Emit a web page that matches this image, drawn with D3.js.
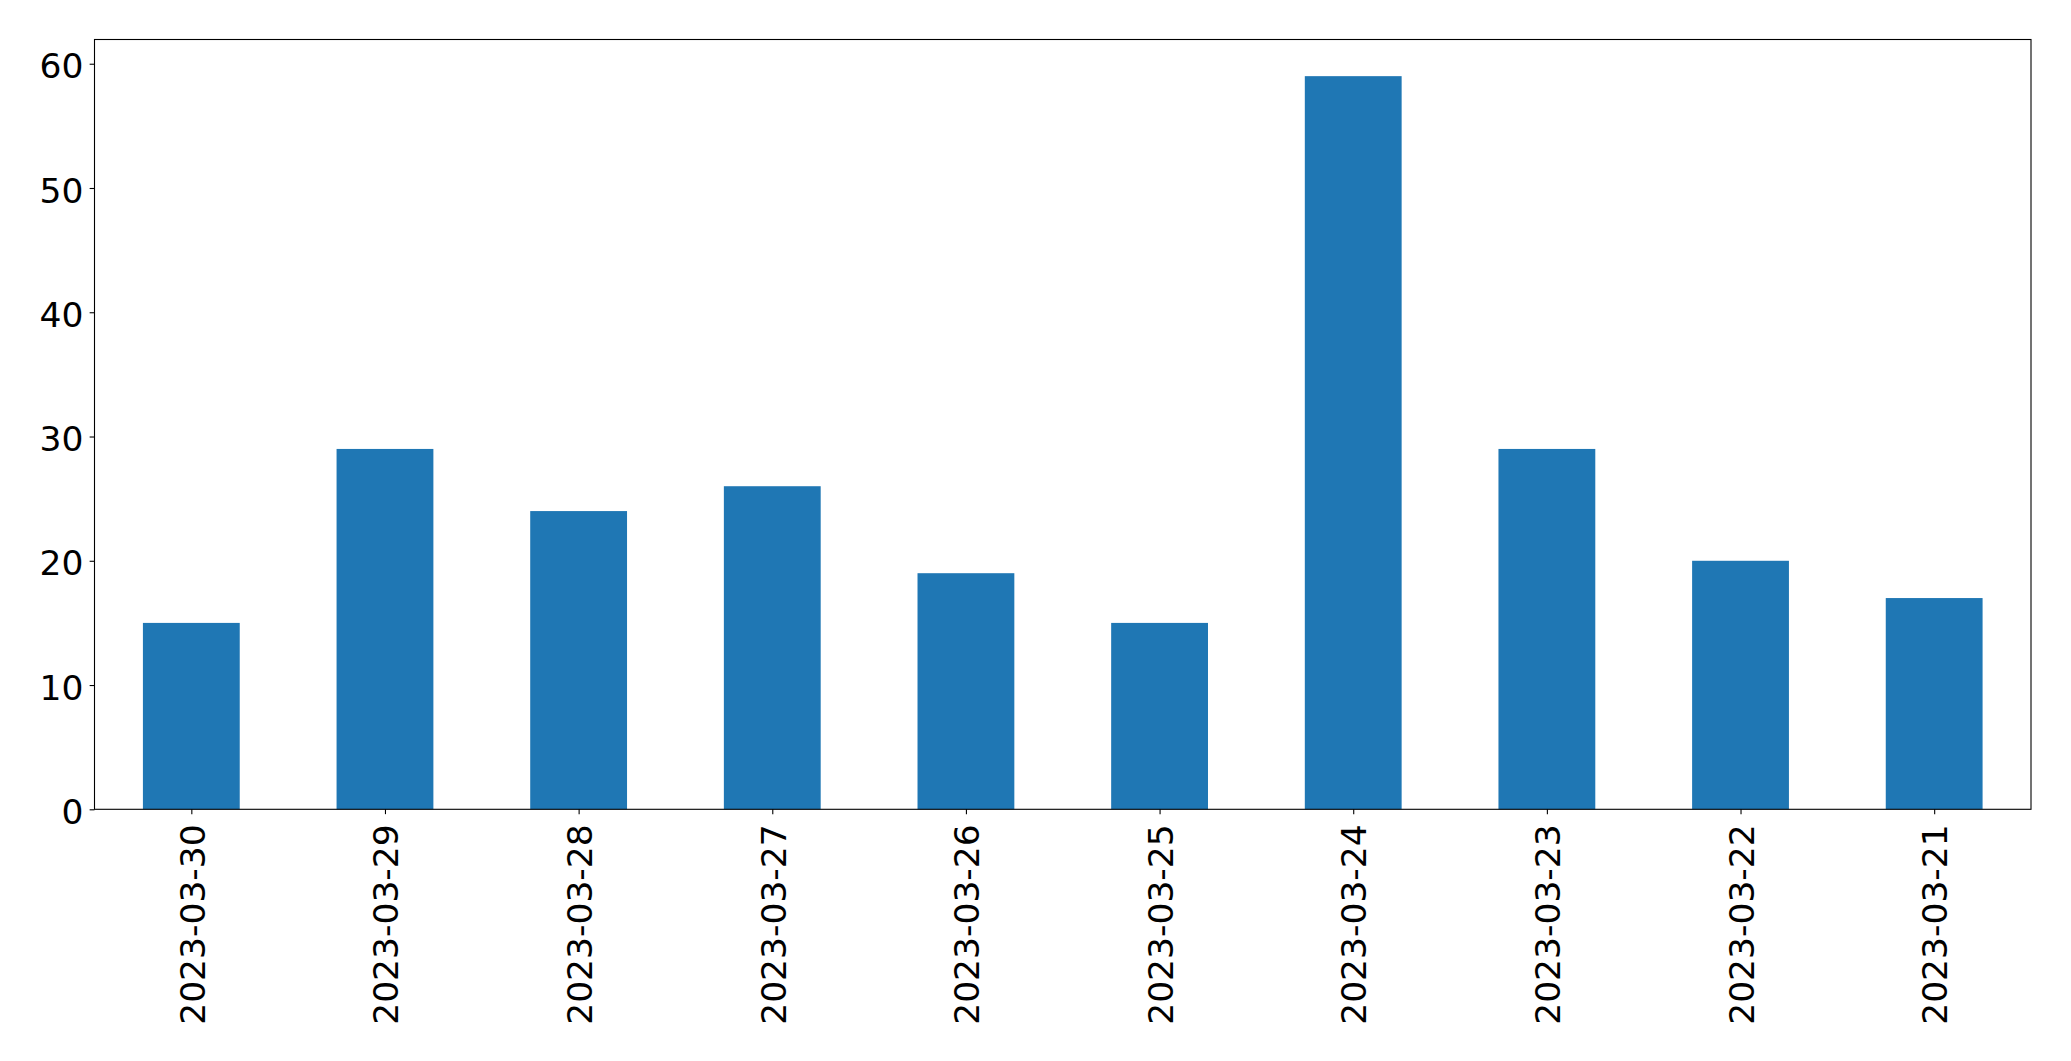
<!DOCTYPE html>
<html><head><meta charset="utf-8">
<script src="https://cdn.jsdelivr.net/npm/d3@7"></script>
<style>html,body{margin:0;padding:0;background:#fff;}svg{display:block;}</style>
</head><body>
<script>
const categories = ["2023-03-30","2023-03-29","2023-03-28","2023-03-27","2023-03-26","2023-03-25","2023-03-24","2023-03-23","2023-03-22","2023-03-21"];
const values = [15, 29, 24, 26, 19, 15, 59, 29, 20, 17];
const yTicks = [0, 10, 20, 30, 40, 50, 60];

const W = 2071, H = 1061;
const m = {left: 94.5, right: 2031, top: 39.5, bottom: 809.3};
const fontSize = 34.5;
const svg = d3.select("body").append("svg").attr("width", W).attr("height", H)
  .style("font-family", "'DejaVu Sans', sans-serif");

const x = d3.scaleLinear().domain([-0.5, categories.length - 0.5]).range([m.left, m.right]);
const y = d3.scaleLinear().domain([0, d3.max(values) * 1.05]).range([m.bottom, m.top]);

svg.append("g").selectAll("rect").data(values).join("rect")
  .attr("x", (d, i) => x(i - 0.25))
  .attr("width", (d, i) => x(i + 0.25) - x(i - 0.25))
  .attr("y", d => y(d))
  .attr("height", d => y(0) - y(d))
  .attr("fill", "#1f77b4");

const yAxis = d3.axisLeft(y).tickValues(yTicks).tickFormat(d3.format("d")).tickSize(4.86).tickPadding(6.3);
const gy = svg.append("g").attr("transform", `translate(${m.left},0)`).call(yAxis);
gy.select(".domain").remove();
gy.selectAll("line").attr("stroke", "#000").attr("stroke-width", 1.1);
gy.selectAll("text").attr("font-size", fontSize).attr("fill", "#000").attr("font-family", "'DejaVu Sans', sans-serif").attr("dy", "0.41em");

const xAxis = d3.axisBottom(x).tickValues(d3.range(categories.length)).tickFormat(i => categories[i]).tickSize(4.86).tickPadding(0);
const gx = svg.append("g").attr("transform", `translate(0,${m.bottom})`).call(xAxis);
gx.select(".domain").remove();
gx.selectAll("line").attr("stroke", "#000").attr("stroke-width", 1.1);
gx.selectAll("text")
  .attr("font-size", fontSize).attr("fill", "#000").attr("font-family", "'DejaVu Sans', sans-serif")
  .attr("transform", "translate(0,15) rotate(-90)")
  .attr("x", 0).attr("y", 0).attr("dy", "0.37em")
  .attr("text-anchor", "end");

svg.append("rect").attr("x", m.left).attr("y", m.top)
  .attr("width", m.right - m.left).attr("height", m.bottom - m.top)
  .attr("fill", "none").attr("stroke", "#000").attr("stroke-width", 1.1);
</script>
</body></html>
